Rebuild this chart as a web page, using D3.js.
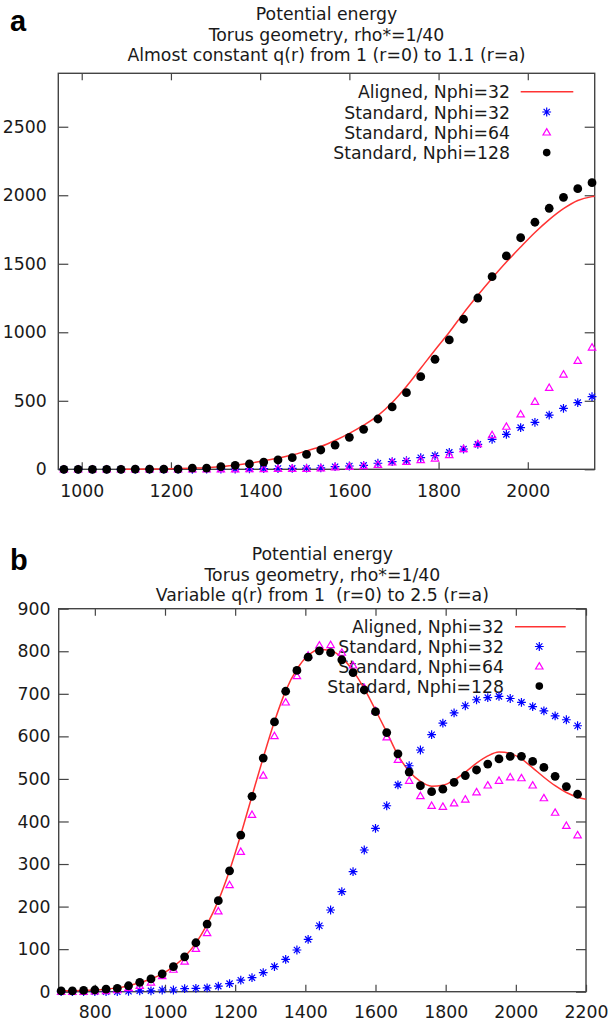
<!DOCTYPE html>
<meta charset="utf-8">
<title>Potential energy</title>
<style>

html, body {
  margin: 0;
  padding: 0;
  background: #fff;
  overflow: hidden;
}

text {
  font-family: "DejaVu Sans", sans-serif;
  font-size: 17.3px;
  fill: #1a1a1a;
  white-space: pre;
}

.tag {
  font-family: "Liberation Sans", Arial, sans-serif;
  font-weight: bold;
  font-size: 29px;
  fill: #000;
}

.axis line {
  stroke: #444;
  stroke-width: 1.2px;
}

.frame {
  fill: none;
  stroke: #444;
  stroke-width: 1.4px;
}

</style>
<svg width="610" height="1023"></svg>
<script src="https://d3js.org/d3.v7.min.js"></script>
<script>

// ---- panel a : almost constant q(r) ----
var xTop = [960, 992, 1024, 1056, 1088, 1120, 1152, 1184, 1216, 1248, 1280, 1312, 1344, 1376, 1408, 1440, 1472, 1504, 1536, 1568,
            1600, 1632, 1664, 1696, 1728, 1760, 1792, 1824, 1856, 1888, 1920, 1952, 1984, 2016, 2048, 2080, 2112, 2144];
var std32Top = [0, 0, 0, 0, 0, 0, 0, 0, 0, 0, 2, 2, 2, 3, 5, 6, 7, 8, 10, 19,
                24, 29, 44, 56, 63, 85, 100, 124, 148, 182, 219, 255, 304, 343, 396, 445, 487, 530];
var std64Top = [0, 0, 0, 0, 0, 0, 0, 0, 0, 0, 0, 1, 1, 2, 3, 4, 5, 5, 8, 15,
                19, 24, 34, 51, 56, 68, 80, 105, 148, 185, 251, 312, 402, 494, 596, 693, 793, 890];
var std128Top = [0, 0, 0, 0, 0, 2, 2, 2, 2, 9, 9, 19, 29, 39, 53, 68, 85, 109, 141, 177,
                 233, 292, 367, 455, 559, 676, 803, 944, 1095, 1250, 1406, 1557, 1690, 1803, 1905, 1985, 2048, 2092];
var alignedTopX = [1088, 1120, 1152, 1184, 1216, 1248, 1280, 1312, 1344, 1376, 1408, 1440, 1472, 1504, 1536, 1568, 1600, 1632,
                   1664, 1696, 1728, 1760, 1792, 1824, 1856, 1888, 1920, 1952, 1984, 2016, 2048, 2080, 2112, 2144, 2150];
var alignedTop = [0, 1, 2, 3, 5, 8, 12, 20, 30, 44, 62, 82, 104, 134, 166, 210, 262, 322,
                  392, 488, 605, 737, 871, 1000, 1140, 1270, 1394, 1512, 1622, 1728, 1822, 1902, 1962, 1990, 1993];
var xTicksTop = [1000, 1200, 1400, 1600, 1800, 2000];
var yTicksTop = [0, 500, 1000, 1500, 2000, 2500];
var titleTop = ["Potential energy", "Torus geometry, rho*=1/40", "Almost constant q(r) from 1 (r=0) to 1.1 (r=a)"];

// ---- panel b : variable q(r) ----
var xBot = [704, 736, 768, 800, 832, 864, 896, 928, 960, 992, 1024, 1056, 1088, 1120, 1152, 1184, 1216, 1248, 1280, 1312,
            1344, 1376, 1408, 1440, 1472, 1504, 1536, 1568, 1600, 1632, 1664, 1696, 1728, 1760, 1792, 1824, 1856, 1888,
            1920, 1952, 1984, 2016, 2048, 2080, 2112, 2144, 2176];
var std32Bot = [0, 0, 0, 0, 0, 0, 1, 2, 2, 4, 4, 7, 8, 9, 13, 19, 27, 33, 45, 59,
                76, 98, 123, 155, 192, 235, 282, 333, 384, 437, 486, 531, 568, 604, 631, 655, 672, 686,
                691, 694, 689, 680, 670, 660, 648, 639, 625];
var std64Bot = [0, 0, 0, 1, 2, 4, 9, 14, 22, 37, 52, 71, 101, 138, 189, 251, 329, 416, 508, 601,
                680, 742, 790, 814, 815, 797, 767, 714, 660, 598, 545, 496, 460, 437, 435, 443, 452, 469,
                485, 496, 504, 502, 485, 455, 421, 390, 368];
var std128Bot = [2, 2, 3, 4, 6, 8, 14, 22, 30, 42, 59, 82, 115, 159, 214, 284, 368, 459, 549, 634,
                 706, 755, 786, 801, 797, 780, 750, 709, 658, 609, 559, 516, 484, 470, 476, 492, 508, 521,
                 535, 547, 553, 553, 541, 527, 506, 482, 464];
var alignedBotX = [704, 736, 768, 800, 832, 864, 896, 928, 960, 992, 1024, 1056, 1088, 1120, 1152, 1184, 1216, 1248, 1280, 1312,
                   1344, 1376, 1408, 1440, 1472, 1504, 1536, 1568, 1600, 1632, 1664, 1696, 1728, 1760, 1792, 1824, 1856, 1888,
                   1920, 1952, 1984, 2016, 2048, 2080, 2112, 2144, 2176, 2200];
var alignedBot = [2, 2, 3, 4, 6, 9, 14, 21, 30, 42, 59, 82, 114, 158, 214, 285, 369, 460, 550, 635,
                  707, 758, 790, 804, 802, 785, 754, 712, 662, 610, 556, 518, 494, 483, 485, 497, 516, 537,
                  554, 563, 560, 547, 526, 504, 484, 468, 457, 452];
var xTicksBot = [800, 1000, 1200, 1400, 1600, 1800, 2000, 2200];
var yTicksBot = [0, 100, 200, 300, 400, 500, 600, 700, 800, 900];
var titleBot = ["Potential energy", "Torus geometry, rho*=1/40", "Variable q(r) from 1  (r=0) to 2.5 (r=a)"];

var legendNames = ["Aligned, Nphi=32", "Standard, Nphi=32", "Standard, Nphi=64", "Standard, Nphi=128"];

var svg = d3.select("svg");

// gnuplot-ish point symbols
var starPath = "M-4.4,0H4.4M0,-4.4V4.4M-3.1,-3.1L3.1,3.1M-3.1,3.1L3.1,-3.1";
var triPath = "M0,-3.7L3.7,2.7L-3.7,2.7Z";

function zip(xs, ys) {
  return xs.map(function(v, i) { return [v, ys[i]]; });
}

function drawPanel(p) {
  var x = d3.scaleLinear().domain(p.xDomain).range([p.left, p.right]);
  var y = d3.scaleLinear().domain(p.yDomain).range([p.bottom, p.top]);
  var g = svg.append("g");

  // ticks, inward and mirrored
  g.append("g").attr("class", "axis").attr("transform", "translate(0," + p.bottom + ")")
    .call(d3.axisBottom(x).tickValues(p.xTicks).tickSize(-7).tickPadding(p.xPad).tickFormat(d3.format("d")));
  g.append("g").attr("class", "axis").attr("transform", "translate(0," + p.top + ")")
    .call(d3.axisTop(x).tickValues(p.xTicks).tickSize(-7).tickFormat(""));
  g.append("g").attr("class", "axis").attr("transform", "translate(" + p.left + ",0)")
    .call(d3.axisLeft(y).tickValues(p.yTicks).tickSize(-10).tickPadding(p.yPad).tickFormat(d3.format("d")));
  g.append("g").attr("class", "axis").attr("transform", "translate(" + p.right + ",0)")
    .call(d3.axisRight(y).tickValues(p.yTicks).tickSize(-10).tickFormat(""));
  g.selectAll(".axis").attr("font-size", null).attr("font-family", null);
  g.selectAll(".axis .domain").remove();

  g.append("rect").attr("class", "frame")
    .attr("x", p.left).attr("y", p.top)
    .attr("width", p.right - p.left).attr("height", p.bottom - p.top);

  // title + panel letter
  var cx = (p.left + p.right) / 2;
  p.title.forEach(function(t, i) {
    g.append("text").attr("x", cx).attr("y", p.titleY + i * 20.6)
      .attr("text-anchor", "middle").text(t);
  });
  g.append("text").attr("class", "tag").attr("x", 10).attr("y", p.tagY).text(p.tag);

  // key
  legendNames.forEach(function(n, i) {
    g.append("text").attr("x", p.keyTextX).attr("y", p.keyY + i * p.keyStep + 6.6)
      .attr("text-anchor", "end").text(n);
  });
  var ky = function(i) { return p.keyY + i * p.keyStep; };
  g.append("line").attr("x1", p.keyLine[0]).attr("x2", p.keyLine[1])
    .attr("y1", ky(0)).attr("y2", ky(0))
    .attr("stroke", "#ff3333").attr("stroke-width", 1.5);
  g.append("path").attr("d", starPath).attr("transform", "translate(" + p.keySym + "," + ky(1) + ")")
    .attr("stroke", "#0000ff").attr("stroke-width", 1.2).attr("fill", "none");
  g.append("path").attr("d", triPath).attr("transform", "translate(" + p.keySym + "," + ky(2) + ")")
    .attr("stroke", "#ff00ff").attr("stroke-width", 1.2).attr("fill", "none");
  g.append("circle").attr("cx", p.keySym).attr("cy", ky(3)).attr("r", 3.8).attr("fill", "#000");

  // aligned curve
  var line = d3.line()
    .x(function(d) { return x(d[0]); })
    .y(function(d) { return y(d[1]); })
    .curve(d3.curveMonotoneX);
  g.append("path").datum(zip(p.alignedX, p.aligned))
    .attr("d", line).attr("fill", "none")
    .attr("stroke", "#ff3333").attr("stroke-width", 1.5);

  // standard runs
  g.append("g").selectAll("path").data(zip(p.xs, p.std32)).enter().append("path")
    .attr("d", starPath)
    .attr("transform", function(d) { return "translate(" + x(d[0]) + "," + y(d[1]) + ")"; })
    .attr("stroke", "#0000ff").attr("stroke-width", 1.2).attr("fill", "none");
  g.append("g").selectAll("path").data(zip(p.xs, p.std64)).enter().append("path")
    .attr("d", triPath)
    .attr("transform", function(d) { return "translate(" + x(d[0]) + "," + y(d[1]) + ")"; })
    .attr("stroke", "#ff00ff").attr("stroke-width", 1.2).attr("fill", "none");
  g.append("g").selectAll("circle").data(zip(p.xs, p.std128)).enter().append("circle")
    .attr("cx", function(d) { return x(d[0]); })
    .attr("cy", function(d) { return y(d[1]); })
    .attr("r", 4.4).attr("fill", "#000");
}

drawPanel({
  tag: "a", tagY: 30.5, title: titleTop, titleY: 20,
  left: 58.3, right: 594.7, top: 73.3, bottom: 469.3,
  xDomain: [947.5, 2150], yDomain: [0, 2890],
  xTicks: xTicksTop, yTicks: yTicksTop, xPad: 15.4, yPad: 11.6,
  keyTextX: 510, keyLine: [520.7, 573.3], keySym: 546.7, keyY: 91.7, keyStep: 20.3,
  xs: xTop, std32: std32Top, std64: std64Top, std128: std128Top,
  alignedX: alignedTopX, aligned: alignedTop
});

drawPanel({
  tag: "b", tagY: 570, title: titleBot, titleY: 560,
  left: 58.7, right: 586, top: 608.7, bottom: 991.7,
  xDomain: [697, 2200], yDomain: [0, 900],
  xTicks: xTicksBot, yTicks: yTicksBot, xPad: 14.3, yPad: 8.2,
  keyTextX: 504, keyLine: [515, 565.7], keySym: 539.3, keyY: 626.7, keyStep: 19.8,
  xs: xBot, std32: std32Bot, std64: std64Bot, std128: std128Bot,
  alignedX: alignedBotX, aligned: alignedBot
});

</script>
